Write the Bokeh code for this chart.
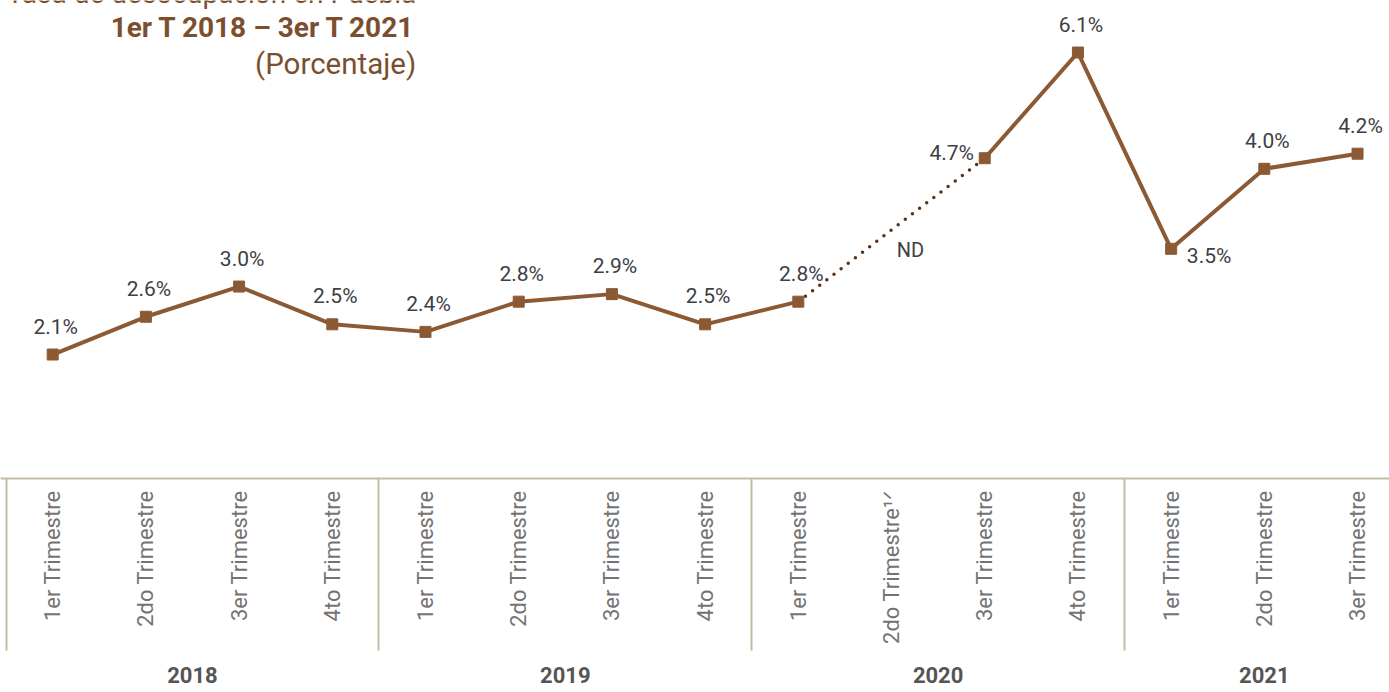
import math
from bokeh.plotting import figure
from bokeh.models import (ColumnDataSource, LinearAxis, FixedTicker, Range1d,
                          LabelSet, Label)
from bokeh.core.properties import value
from bokeh.embed import file_html
from bokeh.resources import INLINE

# ---------------- data ----------------
title_lines = ["Tasa de desocupación en Puebla",
               "1er T 2018 \u2013 3er T 2021",
               "(Porcentaje)"]
years = ["2018", "2019", "2020", "2021"]
quarters_per_year = [4, 4, 4, 3]
quarters = ["1er Trimestre", "2do Trimestre", "3er Trimestre", "4to Trimestre",
            "1er Trimestre", "2do Trimestre", "3er Trimestre", "4to Trimestre",
            "1er Trimestre", "2do Trimestre\u00b9\u141f", "3er Trimestre", "4to Trimestre",
            "1er Trimestre", "2do Trimestre", "3er Trimestre"]
rate = [2.1, 2.6, 3.0, 2.5, 2.4, 2.8, 2.9, 2.5, 2.8, float("nan"),
        4.7, 6.1, 3.5, 4.56, 4.76]
rate_labels = ["2.1%", "2.6%", "3.0%", "2.5%", "2.4%", "2.8%", "2.9%", "2.5%",
               "2.8%", "", "4.7%", "6.1%", "3.5%", "4.0%", "4.2%"]
missing_label = "ND"

# ---------------- styles ----------------
BROWN = "#8b5a35"
DOT_BROWN = "#5a3315"
TITLE_BROWN = "#7b4f2e"
TAN = "#c4bd9f"
LABEL_GRAY = "#3d4045"
TICK_GRAY = "#737373"
YEAR_GRAY = "#555555"
FONT = "Roboto"
SEP_LEN = 172

n = len(quarters)
xc = [i + 0.5 for i in range(n)]
missing = [i for i, v in enumerate(rate) if math.isnan(v)]
present = [i for i, v in enumerate(rate) if not math.isnan(v)]

bounds = []
year_centers = []
acc = 0
for k in quarters_per_year:
    bounds.append(acc)
    year_centers.append(acc + k / 2)
    acc += k

def key(v):
    return int(v) if float(v).is_integer() else v

p = figure(frame_width=1389, frame_height=478,
           x_range=Range1d(-0.06, 14.843), y_range=Range1d(0.458, 6.789),
           x_axis_type=None, y_axis_type=None,
           output_backend="svg", toolbar_location=None,
           min_border=0, min_border_left=0, min_border_right=0,
           min_border_top=0, min_border_bottom=0,
           outline_line_color=None, background_fill_color="white",
           border_fill_color="white")

# solid line (gap at missing quarter)
p.line(xc, rate, line_color=BROWN, line_width=4)

# dotted connector across missing quarter
for m in missing:
    a, b = m - 1, m + 1
    p.line([xc[a], xc[b]], [rate[a], rate[b]], line_color=DOT_BROWN,
           line_width=3.5, line_dash="0 9", line_cap="round")

p.scatter([xc[i] for i in present], [rate[i] for i in present], marker="square",
          size=11, fill_color=BROWN, line_color=BROWN)

# data labels
dx = [3] * n
dy = [28] * n
dx[10], dy[10] = -33, 5
dx[12], dy[12] = 38, -7
lab_src = ColumnDataSource(dict(
    x=[xc[i] for i in present], y=[rate[i] for i in present],
    t=[rate_labels[i] for i in present],
    dx=[dx[i] for i in present], dy=[dy[i] for i in present]))
p.add_layout(LabelSet(x="x", y="y", text="t", source=lab_src,
                      x_offset="dx", y_offset="dy",
                      text_align="center", text_baseline="middle",
                      text_font=value(FONT), text_font_size="21px",
                      text_color=LABEL_GRAY))

for m in missing:
    p.add_layout(Label(x=xc[m], y=(rate[m - 1] + rate[m + 1]) / 2,
                       text=missing_label, x_offset=19, y_offset=-20,
                       text_align="center", text_baseline="middle",
                       text_font=FONT, text_font_size="20px",
                       text_color=LABEL_GRAY))

# title block (top-left, right aligned)
tx = 4.40
title_y = [6.885, 6.437, 5.946]
title_size = ["28px", "28px", "29.5px"]
for line, ty, style, fs in zip(title_lines, title_y,
                               ["normal", "bold", "normal"], title_size):
    p.add_layout(Label(x=tx, y=ty, text=line, text_align="right",
                       text_baseline="alphabetic", text_font=FONT,
                       text_font_size=fs, text_font_style=style,
                       text_color=TITLE_BROWN))

# quarter axis with separators (minor ticks)
qaxis = LinearAxis(
    ticker=FixedTicker(ticks=xc, minor_ticks=bounds),
    major_label_overrides={key(c): q for c, q in zip(xc, quarters)},
    major_label_orientation=math.pi / 2,
    major_label_standoff=12 - SEP_LEN,
    major_label_text_font=FONT, major_label_text_font_size="22px",
    major_label_text_color=TICK_GRAY,
    axis_line_color=TAN, axis_line_width=2,
    major_tick_in=0, major_tick_out=0, major_tick_line_color=None,
    minor_tick_in=0, minor_tick_out=SEP_LEN,
    minor_tick_line_color=TAN, minor_tick_line_width=2)
p.add_layout(qaxis, "below")

# year axis (blank axis label adds a little bottom room)
yaxis = LinearAxis(
    ticker=FixedTicker(ticks=year_centers, minor_ticks=[]),
    major_label_overrides={key(c): y for c, y in zip(year_centers, years)},
    major_label_standoff=14,
    major_label_text_font=FONT, major_label_text_font_size="22px",
    major_label_text_font_style="bold", major_label_text_color=YEAR_GRAY,
    axis_label=" ", axis_label_standoff=0, axis_label_text_font_size="7px",
    axis_line_color=None, major_tick_line_color=None,
    minor_tick_line_color=None)
p.add_layout(yaxis, "below")

open("out.html", "w").write(file_html(p, INLINE))
